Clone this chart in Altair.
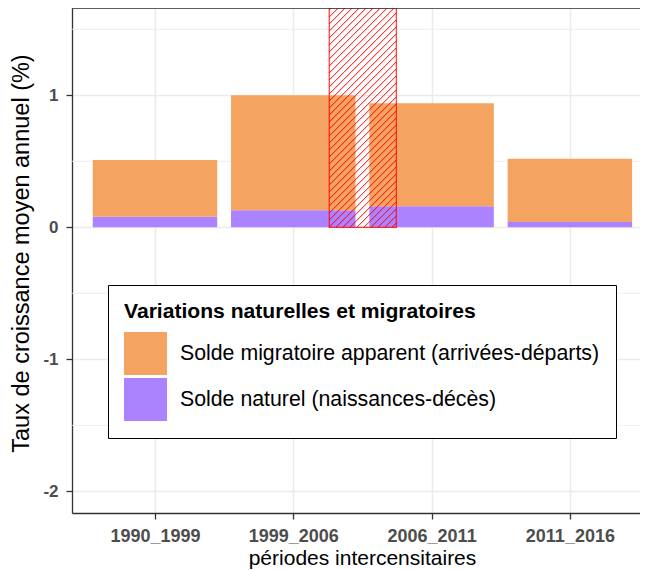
import altair as alt
import pandas as pd

# ---- data ----
periodes = ["1990_1999", "1999_2006", "2006_2011", "2011_2016"]
solde_naturel = [0.08, 0.13, 0.16, 0.04]
solde_migratoire = [0.43, 0.87, 0.78, 0.48]
serie_labels = ["Solde migratoire apparent (arrivées-départs)",
                "Solde naturel (naissances-décès)"]
serie_colors = ["#F4A460", "#AB82FF"]
y_ticks = [-2, -1, 0, 1]
y_minor = [-1.5, -0.5, 0.5, 1.5]
zone_x = [2.26, 2.745]          # hatched zone (between 1999_2006 and 2006_2011)
x_dom = [0.4, 0.4 + 568 / 138.3]
y_dom = [-2.164, 1.661]

W, H = 568, 505
FONT = "Liberation Sans"

# ---- build tables ----
rows = []
for i, p in enumerate(periodes):
    pos = i + 1
    n = solde_naturel[i]
    m = solde_migratoire[i]
    rows.append(dict(periode=p, serie=serie_labels[1], x=pos - 0.45, x2=pos + 0.45, y=0.0, y2=n))
    rows.append(dict(periode=p, serie=serie_labels[0], x=pos - 0.45, x2=pos + 0.45, y=n, y2=n + m))
df = pd.DataFrame(rows)

zone_df = pd.DataFrame([dict(x=zone_x[0], x2=zone_x[1], y=0.0, y2=y_dom[1])])

# hatch lines derived from the zone bounds (45 degrees in pixel space)
px_x = W / (x_dom[1] - x_dom[0])
px_y = H / (y_dom[1] - y_dom[0])
zw = (zone_x[1] - zone_x[0]) * px_x
zh = (y_dom[1] - 0.0) * px_y
step = 7.0
segs = []
c = -zh + 2.0
while c < zw:
    xa = max(0.0, c)
    xb = min(zw, zh + c)
    if xb > xa:
        segs.append(dict(x=zone_x[0] + xa / px_x, x2=zone_x[0] + xb / px_x,
                         y=(xa - c) / px_y, y2=(xb - c) / px_y))
    c += step
hatch_df = pd.DataFrame(segs)
minor_df = pd.DataFrame(dict(y=y_minor))
top_df = pd.DataFrame(dict(y=[y_dom[1]]))

# ---- scales & axes ----
xs = alt.Scale(domain=x_dom, nice=False, zero=False)
ys = alt.Scale(domain=y_dom, nice=False, zero=False)
lab_js = "[" + ",".join("'%s'" % p for p in periodes) + "][datum.value - 1]"

xaxis = alt.Axis(values=[1, 2, 3, 4], labelExpr=lab_js, title="périodes intercensitaires",
                 grid=True, gridColor="#EBEBEB", gridWidth=1.5,
                 domain=True, domainColor="#333333", domainWidth=1.3,
                 ticks=True, tickColor="#333333", tickSize=6, tickWidth=1.3,
                 labelFont=FONT, labelFontSize=18, labelFontWeight="bold", labelColor="#4D4D4D",
                 labelPadding=8, titleFont=FONT, titleFontSize=21, titleFontWeight="normal",
                 titleColor="#000000", titleBaseline="alphabetic", titleY=51, titleX=290)
yaxis = alt.Axis(values=y_ticks, labelExpr="'' + datum.value",
                 title="Taux de croissance moyen annuel (%)",
                 grid=True, gridColor="#EBEBEB", gridWidth=1.5,
                 domain=True, domainColor="#333333", domainWidth=1.3,
                 ticks=True, tickColor="#333333", tickSize=6, tickWidth=1.3,
                 labelFont=FONT, labelFontSize=17, labelFontWeight="bold", labelColor="#4D4D4D",
                 labelPadding=8, titleFont=FONT, titleFontSize=23.5, titleFontWeight="normal",
                 titleColor="#000000", titleAngle=270, titleX=-43.5, titleY=245,
                 titleAlign="center", titleBaseline="alphabetic")

X = lambda: alt.X("x:Q", scale=xs, axis=xaxis)
Y = lambda: alt.Y("y:Q", scale=ys, axis=yaxis)

minor = alt.Chart(minor_df).mark_rule(color="#EBEBEB", strokeWidth=0.8).encode(y=Y())

bars = alt.Chart(df).mark_rect(opacity=1).encode(
    x=X(), x2="x2:Q", y=Y(), y2="y2:Q",
    color=alt.Color("serie:N",
                    scale=alt.Scale(domain=serie_labels, range=serie_colors),
                    legend=alt.Legend(orient="none", legendX=36, legendY=277,
                                      title="Variations naturelles et migratoires",
                                      titleFont=FONT, titleFontSize=21.1, titleFontWeight="bold",
                                      titleColor="#000000", titleLimit=1000, titlePadding=10,
                                      labelFont=FONT, labelFontSize=21.3, labelColor="#000000",
                                      labelLimit=1000, labelOffset=13,
                                      symbolType="square", symbolSize=1849, symbolStrokeWidth=0,
                                      symbolOpacity=1, rowPadding=3, padding=16,
                                      strokeColor="#000000", fillColor="#FFFFFF")),
)

hatch = alt.Chart(hatch_df).mark_rule(color="#FF0000", strokeWidth=1).encode(
    x=X(), x2="x2:Q", y=Y(), y2="y2:Q")

zone = alt.Chart(zone_df).mark_rect(fillOpacity=0, stroke="#FF0000", strokeWidth=1.2,
                                   strokeOpacity=0.8).encode(
    x=X(), x2="x2:Q", y=Y(), y2="y2:Q")

top_border = alt.Chart(top_df).mark_rule(color="#333333", strokeWidth=1.3).encode(y=Y())

chart = alt.layer(minor, bars, hatch, zone, top_border).properties(
    width=W, height=H,
    padding={"left": 64, "top": 0, "right": 0, "bottom": 57},
    autosize=alt.AutoSizeParams(type="none"),
).configure_view(stroke=None).configure(font=FONT)

chart.save("out.html", embed_options={"renderer": "svg", "actions": False})
